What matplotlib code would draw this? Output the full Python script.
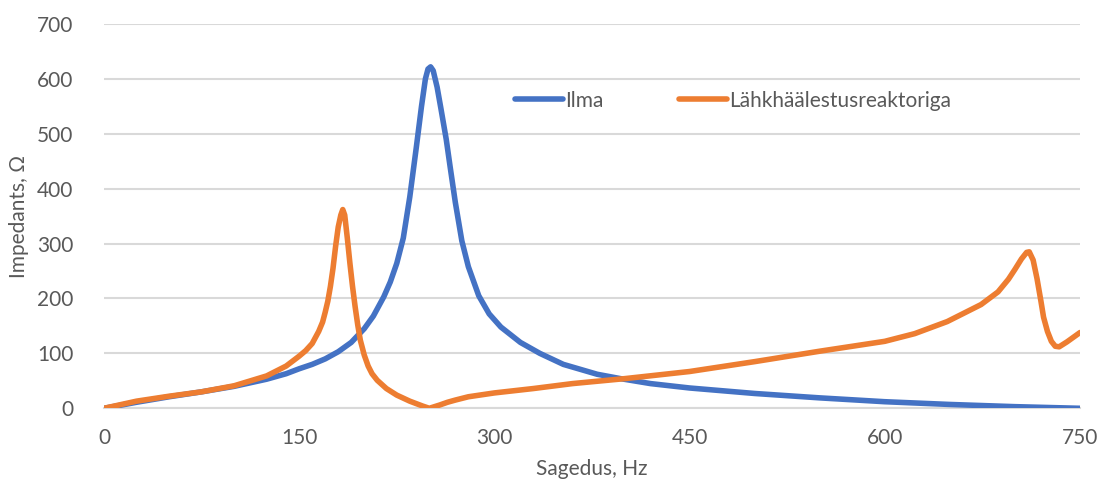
import matplotlib
matplotlib.use("Agg")
import matplotlib.pyplot as plt

# Data
freq_ilma = [0, 25, 50, 75, 100, 125, 140, 150, 160, 170, 180, 190, 200, 207, 215, 220, 225, 230,
             235, 240, 244, 247, 249, 251, 253, 256, 259, 263, 266, 270, 275, 280, 288, 296,
             305, 320, 335, 353, 379, 397, 420, 450, 480, 500, 550, 600, 650, 700, 750]
ilma = [0, 11, 21, 30, 40, 53, 63, 72, 80, 90, 103, 120, 145, 168, 203, 230, 264, 310,
        385, 475, 550, 600, 618, 622, 615, 585, 545, 490, 440, 375, 305, 258, 205, 172,
        148, 120, 100, 80, 62, 54, 45, 37, 31, 27, 19, 12, 7, 3, 0]

freq_reak = [0, 25, 50, 75, 100, 125, 140, 150, 155, 160, 165, 168, 170, 172, 174, 176, 178, 180,
             182, 183.5, 185, 187, 189, 191, 193, 195, 197, 200, 203, 206, 210, 217, 225, 235,
             245, 250, 254, 258, 264, 270, 280, 300, 330, 360, 400, 450, 500, 550, 600, 623,
             648, 674, 687, 695, 700, 705, 709, 711, 714, 717, 720, 722, 725, 728, 731, 734,
             740, 750]
reaktor = [0, 13, 22, 30, 41, 59, 77, 95, 105, 118, 140, 157, 175, 195, 222, 255, 295, 330,
           352, 362, 352, 310, 264, 222, 185, 152, 124, 97, 77, 63, 51, 36, 24, 13,
           4, 0, 3, 6, 11, 15, 21, 28, 36, 45, 54, 67, 85, 104, 122, 136,
           158, 189, 212, 235, 253, 272, 284, 285, 270, 236, 195, 166, 140, 122, 113, 112,
           121, 138]

series_names = ["Ilma", "Lähkhäälestusreaktoriga"]
x_ticks = [0, 150, 300, 450, 600, 750]
y_ticks = [0, 100, 200, 300, 400, 500, 600, 700]
x_label = "Sagedus, Hz"
y_label = "Impedants, Ω"

BLUE = "#4472C4"
ORANGE = "#ED7D31"
TEXT = "#595959"
GRID = "#D9D9D9"

plt.rcParams['font.family'] = ['Lato', 'DejaVu Sans']

fig = plt.figure(figsize=(10.99, 4.79), dpi=100)
ax = fig.add_axes([0.0946, 0.1476, 0.8881, 0.8023])

ax.plot(freq_ilma, ilma, color=BLUE, lw=4.0, solid_joinstyle='round',
        solid_capstyle='round', label=series_names[0], zorder=3)
ax.plot(freq_reak, reaktor, color=ORANGE, lw=4.0, solid_joinstyle='round',
        solid_capstyle='round', label=series_names[1], zorder=4)

ax.set_xlim(0, 750)
ax.set_ylim(0, 700)
ax.set_xticks(x_ticks)
ax.set_yticks(y_ticks)
ax.grid(axis='y', color=GRID, lw=1.5, zorder=0)
ax.set_axisbelow(True)
for s in ['top', 'right', 'left']:
    ax.spines[s].set_visible(False)
ax.spines['bottom'].set_color(GRID)
ax.spines['bottom'].set_linewidth(1.5)
ax.tick_params(axis='both', length=0, labelsize=15, colors=TEXT)
ax.tick_params(axis='x', pad=14)
ax.tick_params(axis='y', pad=22)

ax.set_xlabel(x_label, fontsize=15, color=TEXT, labelpad=8)
ax.set_ylabel(y_label, fontsize=15, color=TEXT, labelpad=6)

leg = fig.legend(loc='center', bbox_to_anchor=(0.667, 0.79), ncol=2, frameon=False,
                 fontsize=15, handlelength=2.3, handletextpad=0.1, columnspacing=3.6)
for t in leg.get_texts():
    t.set_color(TEXT)

fig.savefig("out.png", dpi=100, facecolor='white')
